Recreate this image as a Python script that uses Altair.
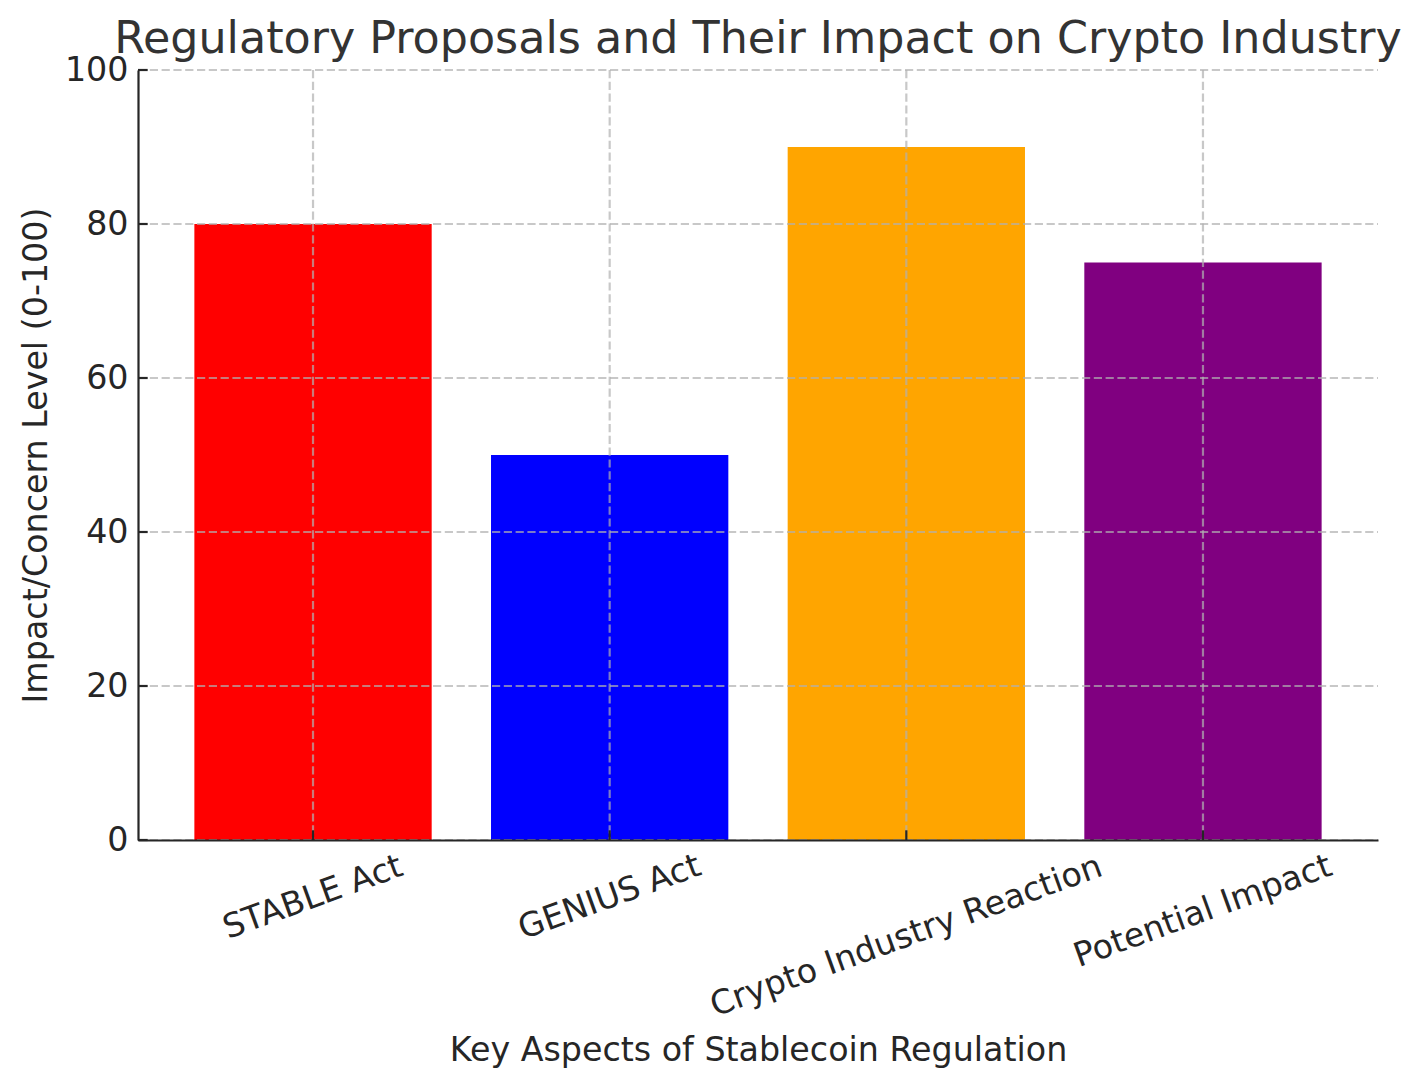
import altair as alt
import pandas as pd

title_text = "Regulatory Proposals and Their Impact on Crypto Industry"
categories = ["STABLE Act", "GENIUS Act", "Crypto Industry Reaction", "Potential Impact"]
values = [80, 50, 90, 75]
colors = ["#ff0000", "#0000ff", "#ffa500", "#800080"]
y_ticks = [0, 20, 40, 60, 80, 100]

W, H = 1240, 770
FONT = "DejaVu Sans"
DARK = "#262626"
TICK_LEN = 9.7

bars_df = pd.DataFrame({"aspect": categories, "value": values, "color": colors})
ticks_df = pd.DataFrame({"value": y_ticks})
title_df = pd.DataFrame({"title": [title_text]})

label_pad = {
    "condition": [
        {"test": f"datum.value === '{categories[2]}'", "value": 96},
        {"test": f"datum.value === '{categories[3]}'", "value": 71},
    ],
    "value": 57,
}

x_enc = alt.X(
    "aspect:N",
    sort=categories,
    scale=alt.Scale(paddingInner=0.2, paddingOuter=0.19),
    title="Key Aspects of Stablecoin Regulation",
    axis=alt.Axis(
        labelAngle=-20,
        labelAlign="center",
        labelBaseline="middle",
        labelPadding=label_pad,
        labelOverlap=False,
        labelLimit=0,
        labelFont=FONT,
        labelFontSize=33.3,
        labelColor=DARK,
        ticks=False,
        tickSize=0,
        grid=False,
        domainColor=DARK,
        domainWidth=2.2,
        titleFont=FONT,
        titleFontSize=33.3,
        titleFontWeight="normal",
        titleColor=DARK,
        titleBaseline="alphabetic",
        titleY=220,
        titleLimit=0,
        zindex=1,
    ),
)

y_enc = alt.Y(
    "value:Q",
    scale=alt.Scale(domain=[0, 100], nice=False, zero=True),
    title="Impact/Concern Level (0-100)",
    axis=alt.Axis(
        values=y_ticks,
        labelPadding=10,
        labelFont=FONT,
        labelFontSize=33.3,
        labelColor=DARK,
        ticks=False,
        tickSize=0,
        grid=False,
        domainColor=DARK,
        domainWidth=2.2,
        titleFont=FONT,
        titleFontSize=33.3,
        titleFontWeight="normal",
        titleColor=DARK,
        titleAngle=270,
        titleBaseline="alphabetic",
        titleX=-91.5,
        titleLimit=0,
        zindex=1,
    ),
)

bars = alt.Chart(bars_df).mark_bar().encode(
    x=x_enc,
    y=y_enc,
    color=alt.Color("color:N", scale=None),
)

grid_style = dict(color="#b0b0b0", opacity=0.7, strokeWidth=2.2, strokeDash=[8.2, 3.6])

x_grid = alt.Chart(bars_df).mark_rule(**grid_style).encode(
    x=x_enc,
    y=alt.value(0),
    y2=alt.value(H),
)

y_grid = alt.Chart(ticks_df).mark_rule(**grid_style).encode(
    y=y_enc,
    x=alt.value(0),
    x2=alt.value(W),
)

x_tick_marks = alt.Chart(bars_df).mark_rule(color=DARK, strokeWidth=2.2).encode(
    x=x_enc,
    y=alt.value(H - TICK_LEN),
    y2=alt.value(H),
)

y_tick_marks = alt.Chart(ticks_df).mark_rule(color=DARK, strokeWidth=2.2).encode(
    y=y_enc,
    x=alt.value(0),
    x2=alt.value(TICK_LEN),
)

title_mark = alt.Chart(title_df).mark_text(
    font=FONT,
    fontSize=44.4,
    color="#333333",
    align="center",
    baseline="alphabetic",
).encode(
    text="title:N",
    x=alt.value(W / 2),
    y=alt.value(-17),
)

chart = (
    alt.layer(bars, x_grid, y_grid, x_tick_marks, y_tick_marks, title_mark)
    .properties(
        width=W,
        height=H,
        background="white",
        autosize=alt.AutoSizeParams(type="none"),
        padding={"left": 130, "top": 62, "right": 30, "bottom": 235},
    )
    .configure_view(strokeWidth=0, stroke="transparent")
)

chart.save("out.html", embed_options={"renderer": "svg", "actions": False})
